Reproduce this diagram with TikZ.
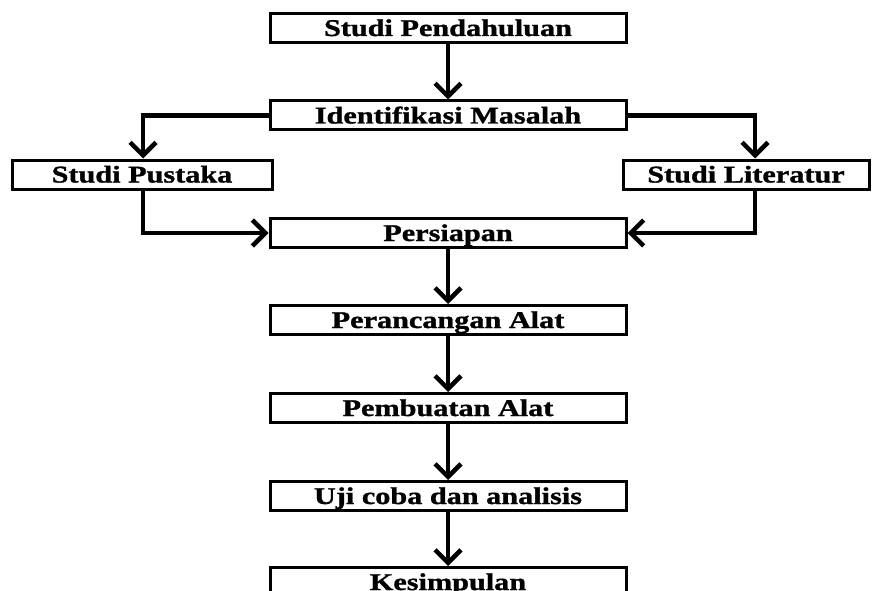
\documentclass[tikz,border=0pt]{standalone}
\usepackage{fontspec}
\setmainfont{Liberation Serif}
\newfontfamily\boxfont[FakeStretch=1.26,FakeBold=1.2]{Liberation Serif}
\usetikzlibrary{arrows.meta}
\begin{document}
\begin{tikzpicture}[x=1pt,y=-1pt,
  stepbox/.style={draw=black, line width=3pt, fill=white, inner sep=0pt,
    minimum height=29pt, text height=19pt, text depth=3pt,
    font=\boxfont\bfseries\fontsize{24}{28}\selectfont},
  mainbox/.style={stepbox, minimum width=356pt},
  flow/.style={line width=4.5pt,
    -{Straight Barb[length=13pt,width=26pt]}}
]
\useasboundingbox (0,0) rectangle (875,591);
\clip (0,0) rectangle (875,591);

% main column
\node[mainbox] (pend)  at (448,28)  {Studi Pendahuluan};
\node[mainbox] (ident) at (448,115.5) {Identifikasi Masalah};
\node[stepbox, minimum width=260pt] (pust) at (142,174.5) {Studi Pustaka};
\node[stepbox, minimum width=246pt] (lit)  at (746,174.5) {Studi Literatur};
\node[mainbox] (pers)  at (448,233) {Persiapan};
\node[mainbox] (ranc)  at (448,320) {Perancangan Alat};
\node[mainbox] (buat)  at (448,408) {Pembuatan Alat};
\node[mainbox] (uji)   at (448,496) {Uji coba dan analisis};
\node[mainbox] (simp)  at (448,582) {Kesimpulan};

% vertical flow
\draw[flow] (pend) -- (ident);
\draw[flow] (pers) -- (ranc);
\draw[flow] (ranc) -- (buat);
\draw[flow] (buat) -- (uji);
\draw[flow] (uji)  -- (simp);

% side branches
\draw[flow] (ident.west) -| ([xshift=1pt]pust.north);
\draw[flow] (ident.east) -| ([xshift=9pt]lit.north);
\draw[flow] ([xshift=1pt]pust.south) |- (pers.west);
\draw[flow] ([xshift=9pt]lit.south) |- (pers.east);
\end{tikzpicture}
\end{document}
